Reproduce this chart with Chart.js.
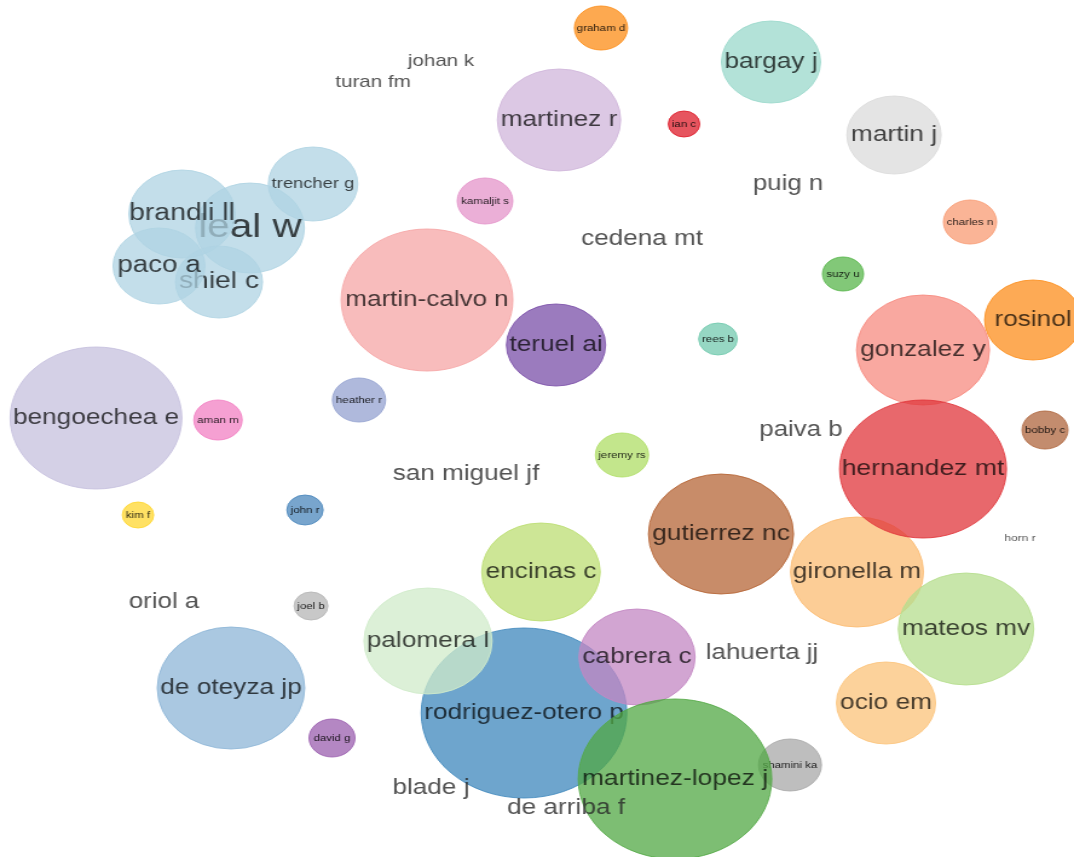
<!DOCTYPE html>
<html lang="en">
<head>
<meta charset="UTF-8">
<title>Author bubbles</title>
<script src="https://cdn.jsdelivr.net/npm/chart.js@4.4.1/dist/chart.umd.min.js"></script>
<style>
  body { margin: 0; background: #fff; }
  #chart { display: block; }
</style>
</head>
<body>
<!-- drawn at 888 wide and stretched to 1074 so the bubbles come out oval like the original -->
<canvas id="chart" width="888" height="857" style="width:1074px;height:857px"></canvas>
<script>
// nodes in drawing order, bubbles first, bare labels last
var names = [
  'graham d', 'ian c', 'kamaljit s', 'charles n', 'suzy u', 'rees b', 'aman m', 'heather r',
  'bobby c', 'jeremy rs', 'kim f', 'john r', 'joel b', 'david g', 'shamini ka',
  'bargay j', 'martinez r', 'martin j', 'trencher g', 'shiel c', 'leal w', 'brandli ll', 'paco a',
  'martin-calvo n', 'teruel ai', 'rosinol', 'gonzalez y', 'bengoechea e', 'gironella m',
  'hernandez mt', 'gutierrez nc', 'encinas c', 'mateos mv', 'de oteyza jp', 'ocio em',
  'rodriguez-otero p', 'palomera l', 'cabrera c', 'martinez-lopez j',
  'johan k', 'turan fm', 'puig n', 'cedena mt', 'paiva b', 'san miguel jf', 'horn r',
  'oriol a', 'lahuerta jj', 'blade j', 'de arriba f'
];
var posX = [
  601, 684, 485, 970, 843, 718, 218, 359,
  1045, 622, 138, 305, 311, 332, 790,
  771, 559, 894, 313, 219, 250, 182, 159,
  427, 556, 1033, 923, 96, 857,
  923, 721, 541, 966, 231, 886,
  524, 428, 637, 675,
  441, 373, 788, 642, 801, 466, 1020,
  164, 762, 431, 566
];
var posY = [
  28, 124, 201, 222, 274, 339, 420, 400,
  430, 455, 515, 510, 606, 738, 765,
  62, 120, 135, 184, 282, 228, 214, 266,
  300, 345, 320, 350, 418, 572,
  469, 534, 572, 629, 688, 703,
  713, 641, 657, 779,
  61, 82, 184, 239, 430, 474, 538,
  602, 653, 788, 808
];
var radius = [
  22, 13, 23, 22, 17, 16, 20, 22,
  19, 22, 13, 15, 14, 19, 26,
  41, 51, 39, 37, 36, 45, 44, 38,
  71, 41, 40, 55, 71, 55,
  69, 60, 49, 56, 61, 41,
  85, 53, 48, 80,
  0, 0, 0, 0, 0, 0, 0,
  0, 0, 0, 0
];
var labelSize = [
  9.5, 9.5, 9.5, 9.5, 9.5, 9.5, 9.5, 9.5,
  9.5, 9.5, 9.5, 9.5, 9.5, 9.5, 9.5,
  21.7, 21.7, 21.7, 15.2, 23.4, 33.5, 23.5, 23,
  21.5, 21.7, 21.7, 21.7, 21.7, 21.7,
  22, 21.8, 21.7, 21.7, 21.7, 21.7,
  21.7, 21.7, 21.7, 21.8,
  17, 17, 21.4, 21.6, 21.4, 21.6, 9.8,
  21.4, 21.5, 21.6, 21.7
];
var colors = [
  '252,140,22', '222,28,42', '228,148,202', '248,155,115', '88,182,75', '115,202,175', '242,128,195', '148,162,208',
  '175,102,62', '175,222,102', '255,215,48', '75,135,188', '182,182,182', '155,95,175', '168,168,168',
  '154,216,203', '208,182,219', '219,219,219', '175,211,227', '175,211,227', '175,211,227', '175,211,227', '175,211,227',
  '246,166,166', '122,79,168', '252,142,28', '247,139,128', '198,192,222', '251,188,115',
  '224,54,59', '182,102,55', '188,222,115', '182,222,142', '142,182,215', '251,195,122',
  '62,135,188', '208,235,202', '195,135,195', '82,168,68',
  '0,0,0', '0,0,0', '0,0,0', '0,0,0', '0,0,0', '0,0,0', '0,0,0',
  '0,0,0', '0,0,0', '0,0,0', '0,0,0'
];

var n = names.length;
var datasets = [];
for (var i = 0; i < n; i++) {
  var bare = radius[i] === 0;
  datasets.push({
    label: names[i],
    data: [{ x: posX[i], y: posY[i], r: radius[i] }],
    backgroundColor: bare ? 'rgba(0,0,0,0)' : 'rgba(' + colors[i] + ',0.75)',
    borderColor: bare ? 'rgba(0,0,0,0)' : 'rgba(' + colors[i] + ',0.85)',
    borderWidth: bare ? 0 : 1,
    order: n - i   // chart.js paints high order first
  });
}

// label each bubble right after it is painted, so later bubbles wash over earlier text
var nodeLabels = {
  id: 'nodeLabels',
  afterDatasetDraw: function (chart, args) {
    var i = args.index;
    var pt = chart.getDatasetMeta(i).data[0];
    var ctx = chart.ctx;
    var color = 'rgba(0,0,0,0.72)';
    if (radius[i] === 0) color = 'rgba(40,40,40,0.8)';
    else if (labelSize[i] < 12) color = 'rgba(0,0,0,0.85)';
    ctx.save();
    ctx.font = labelSize[i] + 'px "Liberation Sans", Arial, sans-serif';
    ctx.fillStyle = color;
    ctx.textAlign = 'center';
    ctx.textBaseline = 'middle';
    ctx.fillText(names[i], pt.x, pt.y);
    ctx.restore();
  }
};

var ctx = document.getElementById('chart').getContext('2d');
var chart = new Chart(ctx, {
  type: 'bubble',
  data: { datasets: datasets },
  options: {
    responsive: false,
    animation: false,
    events: [],
    layout: { autoPadding: false, padding: 0 },
    scales: {
      x: { type: 'linear', min: 0, max: 1074, display: false },
      y: { type: 'linear', min: 0, max: 857, reverse: true, display: false }
    },
    plugins: {
      legend: { display: false },
      tooltip: { enabled: false }
    }
  },
  plugins: [nodeLabels]
});
</script>
</body>
</html>
